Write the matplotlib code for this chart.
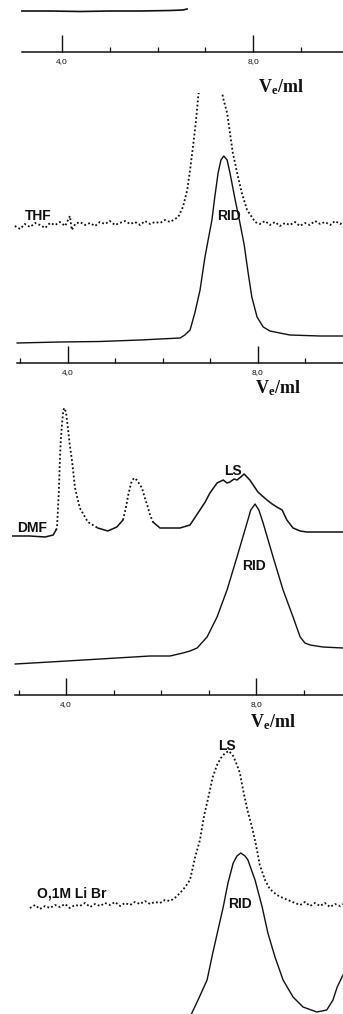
import matplotlib.pyplot as plt
from matplotlib.ticker import FixedLocator, NullFormatter

# elution volume (ml) and detector signal (arbitrary units)

# tail of the trace above the first ruler
top_v = [3.16, 3.75, 4.38, 5.01, 5.63, 6.26, 6.53, 6.62]
top_s = [41, 41, 40.5, 41, 41, 41.5, 42, 43]

# THF - light scattering (dotted)
thf_ls_v = [2.88, 2.99, 3.09, 3.20, 3.31, 3.41, 3.52, 3.62, 3.73, 3.83, 3.94, 4.04, 4.08,
            4.15, 4.25, 4.36, 4.46, 4.57, 4.67, 4.78, 4.88, 4.99, 5.09, 5.20, 5.31, 5.41,
            5.52, 5.62, 5.73, 5.83, 5.94, 6.04, 6.15, 6.25, 6.32, 6.42, 6.51, 6.57, 6.63,
            6.69, 6.74, 6.80, 6.88, 7.03, 7.16, 7.22, 7.26, 7.35, 7.41, 7.47, 7.58, 7.66,
            7.77, 7.87, 7.94, 8.04, 8.15, 8.25, 8.36, 8.46, 8.57, 8.67, 8.78, 8.88, 8.99,
            9.09, 9.20, 9.31, 9.41, 9.52, 9.62, 9.73, 9.79]
thf_ls_s = [137, 134, 139, 136, 140, 138, 135, 140, 138, 141, 137, 147, 133,
            139, 141, 138, 140, 137, 141, 139, 142, 138, 140, 142, 139, 141,
            138, 142, 139, 141, 140, 143, 141, 144, 146, 156, 173, 193, 216,
            240, 266, 285, 305, 314, 301, 281, 266, 250, 230, 210, 186, 170,
            153, 146, 141, 139, 142, 138, 141, 137, 140, 138, 141, 137, 140,
            138, 142, 139, 141, 138, 142, 139, 141]

# THF - refractive index detector
thf_rid_v = [2.93, 3.83, 4.67, 5.52, 6.15, 6.36, 6.46, 6.57, 6.67, 6.78, 6.88, 6.97, 7.03,
             7.09, 7.16, 7.22, 7.28, 7.35, 7.41, 7.52, 7.62, 7.71, 7.79, 7.87, 7.98, 8.11,
             8.25, 8.67, 9.31, 9.79]
thf_rid_s = [20, 21, 21.5, 23, 24.5, 25, 28, 33, 50, 73, 105, 128, 143,
             166, 190, 203, 207, 203, 190, 163, 140, 118, 91, 66, 46, 36,
             32, 28, 27, 27]

# DMF - light scattering
dmf_ls_v = [2.88, 3.24, 3.56, 3.73, 3.79, 3.81, 3.83, 3.85, 3.87, 3.89, 3.92, 3.94, 3.96,
            4.00, 4.04, 4.08, 4.13, 4.19, 4.29, 4.46, 4.67, 4.88, 5.07, 5.20, 5.26, 5.31,
            5.37, 5.43, 5.49, 5.60, 5.66, 5.71, 5.77, 5.83, 5.98, 6.19, 6.40, 6.61, 6.82,
            6.93, 7.03, 7.18, 7.31, 7.39, 7.45, 7.54, 7.60, 7.68, 7.75, 7.87, 8.04, 8.23,
            8.34, 8.44, 8.55, 8.65, 8.78, 8.93, 9.07, 9.35, 9.83]
dmf_ls_s = [159, 159, 158, 160, 165, 167, 185, 205, 233, 255, 273, 283, 287,
            283, 267, 250, 233, 207, 187, 173, 167, 164, 168, 175, 187, 200,
            212, 217, 215, 207, 197, 190, 180, 173, 167, 167, 167, 170, 185,
            193, 202, 212, 215, 212, 213, 216, 215, 218, 221, 215, 203, 195,
            191, 188, 185, 175, 167, 164, 163, 163, 163]

# DMF - refractive index detector
dmf_rid_v = [2.93, 3.66, 4.72, 5.77, 6.19, 6.46, 6.61, 6.76, 6.97, 7.18, 7.39, 7.60, 7.81,
             7.89, 7.98, 8.06, 8.15, 8.36, 8.57, 8.78, 8.93, 9.03, 9.14, 9.41, 9.83]
dmf_rid_s = [31, 33, 36, 39, 39, 42, 44, 47, 58, 78, 105, 138, 172,
             185, 191, 185, 172, 138, 105, 78, 58, 52, 50, 48, 47]

# 0,1 M LiBr - light scattering
libr_ls_v = [3.24, 3.35, 3.45, 3.56, 3.66, 3.77, 3.87, 3.98, 4.08, 4.19, 4.29, 4.40, 4.51,
             4.61, 4.72, 4.82, 4.93, 5.03, 5.14, 5.24, 5.35, 5.45, 5.56, 5.66, 5.77, 5.87,
             5.98, 6.08, 6.19, 6.29, 6.40, 6.51, 6.61, 6.72, 6.82, 6.91, 6.97, 7.03, 7.09,
             7.18, 7.26, 7.35, 7.43, 7.52, 7.60, 7.66, 7.75, 7.83, 7.92, 8.00, 8.08, 8.19,
             8.29, 8.44, 8.57, 8.72, 8.82, 8.93, 9.03, 9.14, 9.24, 9.35, 9.45, 9.56, 9.66,
             9.77, 9.83]
libr_ls_s = [106, 109, 105, 108, 106, 109, 107, 110, 106, 109, 108, 111, 107,
             110, 108, 111, 109, 112, 108, 111, 109, 112, 110, 113, 110, 112,
             111, 114, 113, 116, 121, 127, 134, 157, 174, 199, 211, 224, 237,
             249, 256, 261, 263, 258, 249, 241, 219, 202, 186, 169, 149, 134,
             125, 119, 116, 113, 111, 109, 112, 108, 111, 108, 111, 107, 110,
             108, 110]

# 0,1 M LiBr - refractive index detector
libr_rid_v = [6.56, 6.65, 6.78, 6.97, 7.09, 7.20, 7.31, 7.41, 7.52, 7.60, 7.68, 7.77, 7.83,
              7.98, 8.13, 8.25, 8.40, 8.57, 8.78, 8.99, 9.28, 9.49, 9.62, 9.71, 9.83]
libr_rid_s = [-8, 1, 14, 34, 61, 84, 107, 131, 151, 158, 161, 158, 154,
              134, 107, 81, 57, 34, 17, 7, 2, 4, 14, 27, 39]

major_ticks = [4, 8]
minor_ticks = [3, 5, 6, 7, 9]
tick_labels = ['4,0', '8,0']

plt.rcParams['font.family'] = ['Liberation Sans', 'DejaVu Sans']
plt.rcParams['mathtext.fontset'] = 'custom'
plt.rcParams['mathtext.bf'] = 'Liberation Serif:bold'
plt.rcParams['mathtext.rm'] = 'Liberation Serif:bold'

W, H = 343, 1014
fig = plt.figure(figsize=(W / 100, H / 100), dpi=100)

ink = '#111111'
dots = (0, (1, 1.3))


def panel(top, bottom, x4, px_ml, ruler=True, spine_from=None, minors=minor_ticks):
    ax = fig.add_axes([0, 1 - bottom / H, 1, (bottom - top) / H])
    ax.set_xlim(4 - x4 / px_ml, 4 + (W - x4) / px_ml)
    ax.set_ylim(0, bottom - top)
    for s in ['left', 'right', 'top']:
        ax.spines[s].set_visible(False)
    ax.set_yticks([])
    if ruler:
        ax.spines['bottom'].set_linewidth(1.1)
        ax.spines['bottom'].set_color(ink)
        if spine_from is not None:
            ax.spines['bottom'].set_bounds(spine_from, ax.get_xlim()[1])
        ax.xaxis.set_major_locator(FixedLocator(major_ticks))
        ax.xaxis.set_minor_locator(FixedLocator(minors))
        ax.xaxis.set_minor_formatter(NullFormatter())
        ax.set_xticklabels(tick_labels)
        ax.tick_params(axis='x', which='major', direction='in', length=12.5, width=1.0,
                       pad=4.5, labelsize=6, colors=ink)
        ax.tick_params(axis='x', which='minor', direction='in', length=3.8, width=0.9,
                       colors=ink)
    else:
        ax.spines['bottom'].set_visible(False)
        ax.set_xticks([])
    ax.patch.set_visible(False)
    return ax


def ve_label(ax, x, y):
    ax.text(x, y, r'$\mathbf{V_e/ml}$', fontsize=13, color=ink, ha='left',
            va='baseline', clip_on=False)


lab = dict(fontsize=10, fontweight='bold', color=ink, va='baseline', clip_on=False)

# top strip: end of the previous trace and its volume ruler
ax0 = panel(0, 52, 62, 47.75, spine_from=3.16, minors=[5, 6, 7, 9])
ax0.plot(top_v, top_s, color=ink, lw=1.2)
ve_label(ax0, 8.10, -40)

# THF
ax1 = panel(93, 363, 68, 47.5, spine_from=2.93)
ax1.plot(thf_ls_v, thf_ls_s, color=ink, lw=1.3, ls=dots)
ax1.plot(thf_rid_v, thf_rid_s, color=ink, lw=1.0)
ax1.text(3.09, 143, 'THF', **lab)
ax1.text(7.14, 143, 'RID', **lab)
ve_label(ax1, 7.94, -30)

# DMF
ax2 = panel(400, 695, 66, 47.5, spine_from=2.93)
ax2.plot(dmf_ls_v[:5], dmf_ls_s[:5], color=ink, lw=1.1)
ax2.plot(dmf_ls_v[4:21], dmf_ls_s[4:21], color=ink, lw=1.3, ls=dots)
ax2.plot(dmf_ls_v[20:24], dmf_ls_s[20:24], color=ink, lw=1.1)
ax2.plot(dmf_ls_v[23:34], dmf_ls_s[23:34], color=ink, lw=1.3, ls=dots)
ax2.plot(dmf_ls_v[33:], dmf_ls_s[33:], color=ink, lw=1.1)
ax2.plot(dmf_rid_v, dmf_rid_s, color=ink, lw=1.0)
ax2.text(2.97, 163, 'DMF', **lab)
ax2.text(7.33, 220, 'LS', **lab)
ax2.text(7.71, 125, 'RID', **lab)
ve_label(ax2, 7.87, -32)

# 0,1 M LiBr
ax3 = panel(745, 1014, 66, 47.5, ruler=False)
ax3.plot(libr_ls_v, libr_ls_s, color=ink, lw=1.3, ls=dots)
ax3.plot(libr_rid_v, libr_rid_s, color=ink, lw=1.0)
ax3.text(7.20, 264, 'LS', **lab)
ax3.text(3.39, 117, 'O,1M Li Br', **lab)
ax3.text(7.41, 106, 'RID', **lab)

fig.savefig('out.png', dpi=100, facecolor='white')
